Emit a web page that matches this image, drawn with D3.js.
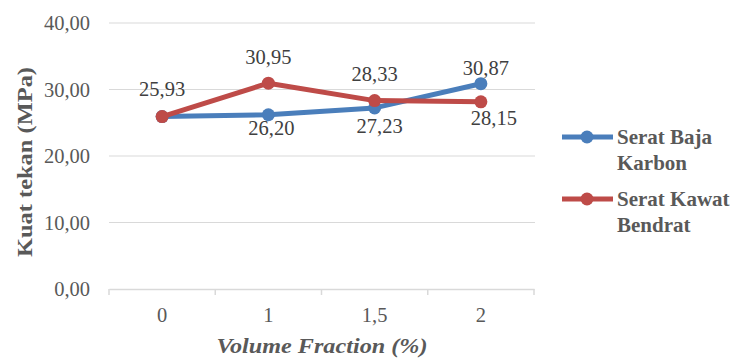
<!DOCTYPE html>
<html>
<head>
<meta charset="utf-8">
<script src="https://cdn.jsdelivr.net/npm/d3@7"></script>
</head>
<body style="margin:0; background:#fff">
<svg id="chart" width="734" height="358" style="display:block"></svg>
<script>
// Compressive strength vs. fibre volume fraction
const categories = ["0", "1", "1,5", "2"];
const seriesNames = ["Serat Baja Karbon", "Serat Kawat Bendrat"];
const bajaKarbon = [25.93, 26.20, 27.23, 30.87];
const kawatBendrat = [25.93, 30.95, 28.33, 28.15];
const yTicks = [0, 10, 20, 30, 40];
const yTitle = "Kuat tekan (MPa)";
const xTitle = "Volume Fraction (%)";

// label placement per point: offset (px) from the marker, null = hidden
const labelOffsets = [
  [null, [3, 13], [5, 18], [5, -16]],
  [[0, -28], [0, -26], [0, -27], [13, 16]]
];

const colors = ["#4a7ebb", "#be4b48"];
const seriesData = [bajaKarbon, kawatBendrat];
const textColor = "#595959";
const fmt = v => d3.format(".2f")(v).replace(".", ",");

const svg = d3.select("#chart");
const plot = { left: 109, right: 534, top: 23, bottom: 289 };

const x = d3.scaleBand().domain(categories).range([plot.left, plot.right]);
const y = d3.scaleLinear().domain([0, 40]).range([plot.bottom, plot.top]);

// serif text node: set at a 24px base size and scaled to the wanted size
const BASE = 24;
function label(parent, px, py, size, rotate = 0) {
  const k = size / BASE;
  return parent.append("text")
    .attr("transform", `translate(${px},${py})${rotate ? ` rotate(${rotate})` : ""} scale(${k})`)
    .style("font-family", '"Liberation Serif"')
    .style("font-size", BASE + "px")
    .attr("dy", "0.35em")
    .property("__k", k);
}

// horizontal gridlines
svg.append("g").selectAll("line").data(yTicks.filter(t => t > 0)).join("line")
  .attr("x1", plot.left).attr("x2", plot.right + 1)
  .attr("y1", d => y(d)).attr("y2", d => y(d))
  .attr("stroke", "#d9d9d9").attr("stroke-width", 1.2);

// y tick labels
const yLab = svg.append("g");
yTicks.forEach(t => {
  label(yLab, 90, y(t), 20.5).attr("text-anchor", "end").attr("fill", textColor).text(fmt(t));
});

// x axis line, boundary ticks and category labels
const xAxis = svg.append("g").attr("transform", `translate(0,${plot.bottom})`)
  .call(d3.axisBottom(x).tickSize(0).tickFormat(""));
xAxis.select(".domain").attr("stroke", "#d9d9d9").attr("stroke-width", 1.5);
const bounds = categories.map(c => x(c)).concat([plot.right]);
svg.append("g").selectAll("line").data(bounds).join("line")
  .attr("x1", d => d).attr("x2", d => d)
  .attr("y1", plot.bottom).attr("y2", plot.bottom + 6)
  .attr("stroke", "#d9d9d9").attr("stroke-width", 1.5);

const cx = c => x(c) + x.bandwidth() / 2;

const xLab = svg.append("g");
categories.forEach(c => {
  label(xLab, cx(c), plot.bottom + 26, 20.5).attr("text-anchor", "middle")
    .attr("fill", textColor).text(c);
});

// lines and markers
seriesData.forEach((vals, si) => {
  const line = d3.line().x((d, i) => cx(categories[i])).y(d => y(d));
  svg.append("path").datum(vals).attr("d", line)
    .attr("fill", "none").attr("stroke", colors[si])
    .attr("stroke-width", 5).attr("stroke-linejoin", "round");
  svg.append("g").selectAll("circle").data(vals).join("circle")
    .attr("cx", (d, i) => cx(categories[i])).attr("cy", d => y(d))
    .attr("r", 6.5).attr("fill", colors[si]);
});

// value labels
seriesData.forEach((vals, si) => {
  const g = svg.append("g");
  vals.forEach((v, i) => {
    const off = labelOffsets[si][i];
    if (!off) return;
    label(g, cx(categories[i]) + off[0], y(v) + off[1], 20.5)
      .attr("text-anchor", "middle").attr("fill", "#404040").text(fmt(v));
  });
});

// legend
const legendRows = [["Serat Baja", "Karbon"], ["Serat Kawat", "Bendrat"]];
legendRows.forEach((rows, si) => {
  const ly = 137 + si * 62;
  const g = svg.append("g");
  g.append("line").attr("x1", 562).attr("x2", 613).attr("y1", ly).attr("y2", ly)
    .attr("stroke", colors[si]).attr("stroke-width", 5);
  g.append("circle").attr("cx", 587).attr("cy", ly).attr("r", 6.5).attr("fill", colors[si]);
  rows.forEach((t, k) => {
    label(g, 617, ly + k * 26, 21).attr("fill", textColor)
      .style("font-weight", "bold").text(t);
  });
});

// axis titles
const kt = 21 / BASE;
label(svg, 25, 162, 21, -90)
  .attr("text-anchor", "middle").attr("fill", textColor).style("font-weight", "bold")
  .attr("textLength", 190 / kt).attr("lengthAdjust", "spacingAndGlyphs")
  .text(yTitle);
label(svg, 322, 346, 21)
  .attr("text-anchor", "middle").attr("fill", textColor)
  .style("font-weight", "bold").style("font-style", "italic")
  .attr("textLength", 211 / kt).attr("lengthAdjust", "spacingAndGlyphs")
  .text(xTitle);
</script>
</body>
</html>
